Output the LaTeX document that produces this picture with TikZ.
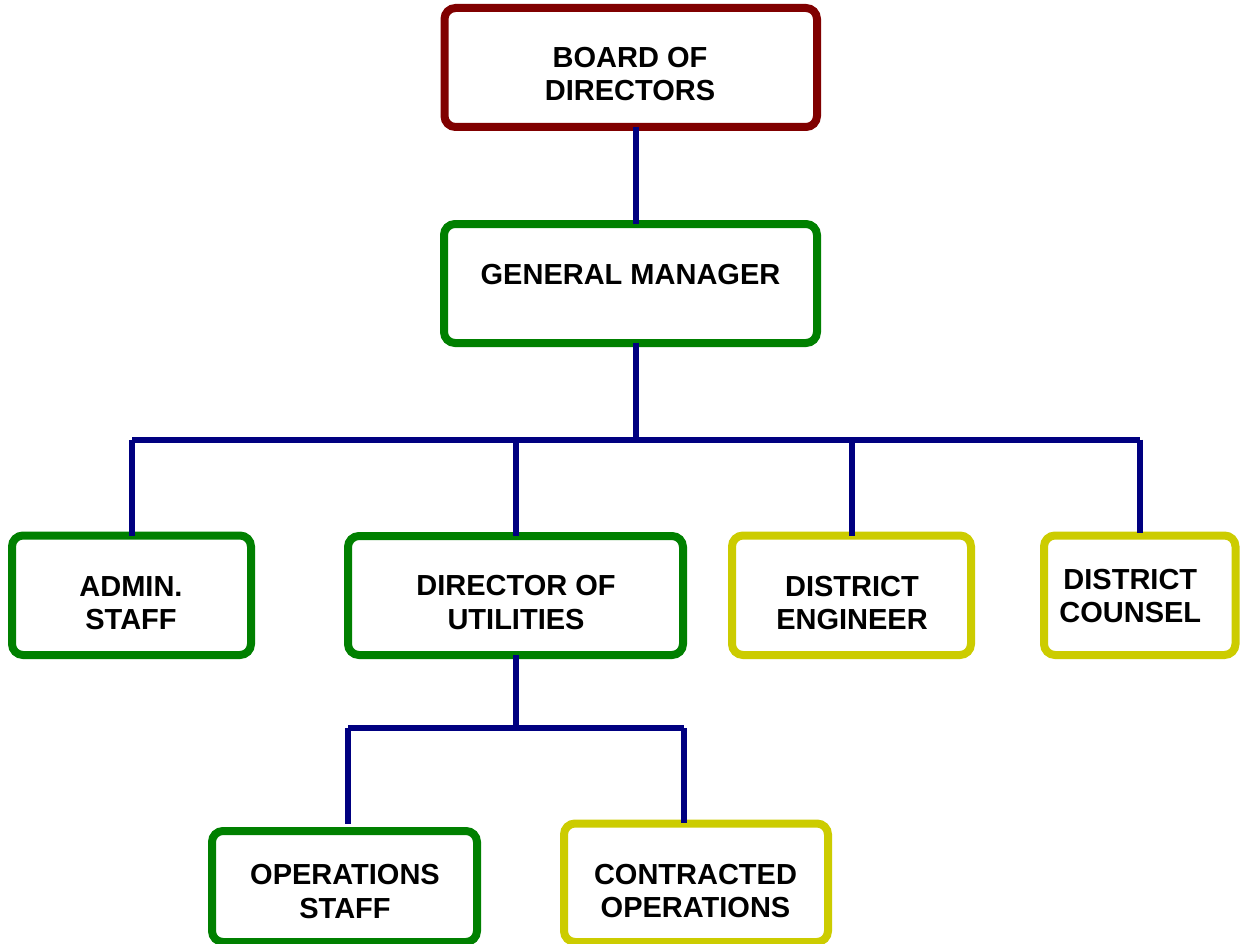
\documentclass[tikz,border=0pt]{standalone}
\usepackage{fontspec}
\setmainfont{Liberation Sans}
\definecolor{bordred}{HTML}{800000}
\definecolor{boxgreen}{HTML}{008000}
\definecolor{boxyellow}{HTML}{CCCC00}
\definecolor{linenavy}{HTML}{000080}
\tikzset{
  orgbox/.style={draw=#1, line width=8pt, rounded corners=11pt, rectangle, fill=white, inner sep=0pt, outer sep=0pt},
  lbl/.style={align=center, inner sep=0pt, font=\fontsize{29}{33.5}\selectfont\bfseries, text=black},
  conn/.style={draw=linenavy, line width=6pt, line cap=butt}
}
\begin{document}
\begin{tikzpicture}[x=1pt, y=-1pt]
\useasboundingbox (0,0) rectangle (1241,944);
\clip (0,0) rectangle (1241,944);
\fill[white] (0,0) rectangle (1241,944);

% boxes
\node[orgbox=bordred, minimum width=372.5pt, minimum height=119pt] (board) at (630.75,67.5) {};
\node[orgbox=boxgreen, minimum width=373pt, minimum height=119pt] (gm) at (630.5,283.5) {};
\node[orgbox=boxgreen, minimum width=239pt, minimum height=119.5pt] (admin) at (131.5,595.25) {};
\node[orgbox=boxgreen, minimum width=335pt, minimum height=119pt] (dou) at (515.5,595.5) {};
\node[orgbox=boxyellow, minimum width=239pt, minimum height=119.5pt] (de) at (851.5,595.25) {};
\node[orgbox=boxyellow, minimum width=191.5pt, minimum height=119.5pt] (dc) at (1139.75,595.25) {};
\node[orgbox=boxgreen, minimum width=265pt, minimum height=111pt] (ops) at (344.5,886.5) {};
\node[orgbox=boxyellow, minimum width=264pt, minimum height=118.5pt] (con) at (696,882.75) {};

% labels
\node[lbl] (boardT) at (630,74.2) {BOARD OF\\DIRECTORS};
\node[lbl] (gmT) at (630.5,275) {GENERAL MANAGER};
\node[lbl] (adminT) at (131,603) {ADMIN.\\STAFF};
\node[lbl] (douT) at (516,602.5) {DIRECTOR OF\\UTILITIES};
\node[lbl] (deT) at (852,603) {DISTRICT\\ENGINEER};
\node[lbl] (dcT) at (1130.3,596.2) {DISTRICT\\COUNSEL};
\node[lbl] (opsT) at (345,891.3) {OPERATIONS\\STAFF};
\node[lbl] (conT) at (695.5,890.8) {CONTRACTED\\OPERATIONS};

% junction coordinates
\coordinate (topx) at (636,180);
\coordinate (busC) at (636,439.7);
\coordinate (busL) at (132,439.7);
\coordinate (busD) at (516,439.7);
\coordinate (busE) at (852,439.7);
\coordinate (busR) at (1140,439.7);
\coordinate (bus2C) at (516,728);
\coordinate (bus2L) at (348,728);
\coordinate (bus2R) at (684,728);
\coordinate (opsTop) at (348,824);
\coordinate (conTop) at (684,823);

% connectors
\draw[conn] (board.south -| topx) -- (gm.north -| topx);
\draw[conn] (gm.south -| topx) -- (busC);
\draw[conn] (busL) -- (busR);
\draw[conn] (busL) -- (admin.north -| busL);
\draw[conn] (busD) -- (dou.north -| busD);
\draw[conn] (busE) -- (de.north -| busE);
\draw[conn] (busR) -- ([yshift=3pt]dc.north -| busR);
\draw[conn] (dou.south -| bus2C) -- (bus2C);
\draw[conn] (bus2L) -- (bus2R);
\draw[conn] (bus2L) -- (opsTop);
\draw[conn] (bus2R) -- (conTop);
\end{tikzpicture}
\end{document}
